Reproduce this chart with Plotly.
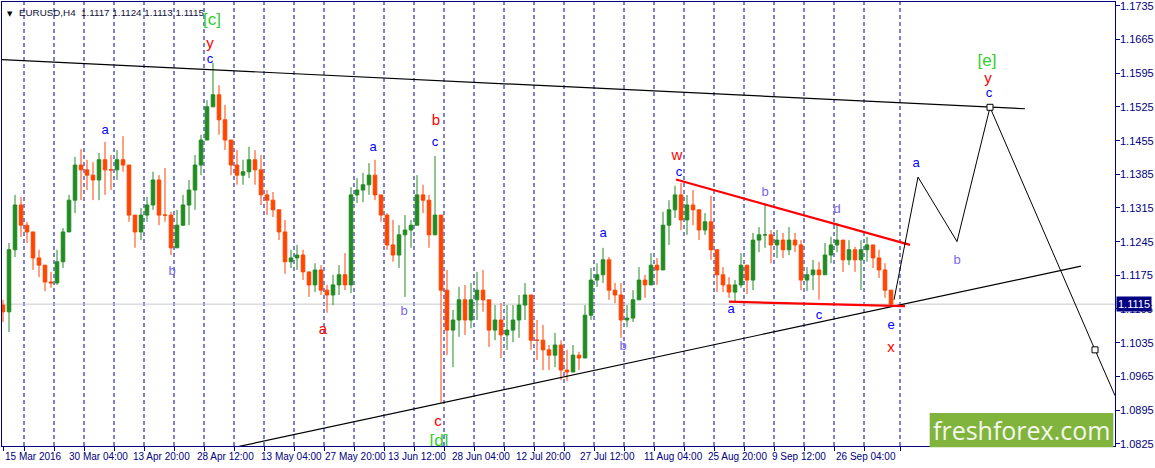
import plotly.graph_objects as go

# ---------------- data ----------------
symbol_header = "EURUSD,H4  1.1117 1.1124 1.1113 1.1115"
last_price = 1.1115

x_labels = ["15 Mar 2016", "30 Mar 04:00", "13 Apr 20:00", "28 Apr 12:00", "13 May 04:00",
            "27 May 20:00", "13 Jun 12:00", "28 Jun 04:00", "12 Jul 20:00", "27 Jul 12:00",
            "11 Aug 04:00", "25 Aug 20:00", "9 Sep 12:00", "26 Sep 04:00"]

y_ticks = [1.0825, 1.0895, 1.0965, 1.1035, 1.1105, 1.1175, 1.1245, 1.1315,
           1.1385, 1.1455, 1.1525, 1.1595, 1.1665, 1.1735]

first_open = 1.1113
highs = [
    1.1124, 1.1242, 1.1342, 1.1338, 1.1286, 1.1265, 1.1228, 1.1196, 1.1182, 1.1228,
    1.1273, 1.1342, 1.1421, 1.1437, 1.1415, 1.1410, 1.1429, 1.1452, 1.1425, 1.1435,
    1.1464, 1.1404, 1.1300, 1.1315, 1.1338, 1.1390, 1.1383, 1.1398, 1.1307, 1.1311,
    1.1342, 1.1373, 1.1425, 1.1467, 1.1539, 1.1616, 1.1570, 1.1529, 1.1456, 1.1435,
    1.1415, 1.1442, 1.1435, 1.1425, 1.1352, 1.1348, 1.1311, 1.1290, 1.1228, 1.1238,
    1.1228, 1.1182, 1.1200, 1.1196, 1.1155, 1.1176, 1.1196, 1.1221, 1.1358, 1.1377,
    1.1388, 1.1408, 1.1415, 1.1342, 1.1304, 1.1290, 1.1279, 1.1300, 1.1290, 1.1383,
    1.1363, 1.1342, 1.1423, 1.1300, 1.1186, 1.1103, 1.1151, 1.1155, 1.1159, 1.1182,
    1.1186, 1.1124, 1.1113, 1.1117, 1.1113, 1.1113, 1.1134, 1.1159, 1.1134, 1.1082,
    1.1072, 1.1030, 1.1055, 1.1040, 1.1020, 1.1030, 1.1016, 1.1113, 1.1190, 1.1200,
    1.1232, 1.1213, 1.1159, 1.1159, 1.1113, 1.1144, 1.1192, 1.1176, 1.1221, 1.1211,
    1.1307, 1.1331, 1.1361, 1.1367, 1.1342, 1.1352, 1.1311, 1.1304, 1.1340, 1.1228,
    1.1192, 1.1171, 1.1165, 1.1221, 1.1196, 1.1263, 1.1275, 1.1325, 1.1269, 1.1269,
    1.1263, 1.1275, 1.1263, 1.1248, 1.1192, 1.1207, 1.1203, 1.1242, 1.1255, 1.1284,
    1.1248, 1.1248, 1.1234, 1.1248, 1.1255, 1.1238, 1.1228, 1.1200, 1.1144,
]
lows = [
    1.1078, 1.1057, 1.1213, 1.1255, 1.1242, 1.1186, 1.1171, 1.1142, 1.1149, 1.1155,
    1.1190, 1.1265, 1.1304, 1.1331, 1.1352, 1.1331, 1.1331, 1.1342, 1.1352, 1.1373,
    1.1390, 1.1286, 1.1232, 1.1248, 1.1286, 1.1311, 1.1279, 1.1286, 1.1217, 1.1232,
    1.1286, 1.1279, 1.1311, 1.1383, 1.1456, 1.1525, 1.1467, 1.1435, 1.1383, 1.1363,
    1.1363, 1.1377, 1.1363, 1.1321, 1.1300, 1.1296, 1.1248, 1.1178, 1.1190, 1.1186,
    1.1165, 1.1130, 1.1140, 1.1134, 1.1097, 1.1113, 1.1134, 1.1144, 1.1138, 1.1325,
    1.1327, 1.1342, 1.1331, 1.1286, 1.1228, 1.1203, 1.1190, 1.1130, 1.1232, 1.1279,
    1.1304, 1.1232, 1.1265, 1.0910, 1.1009, 1.0984, 1.1047, 1.1051, 1.1065, 1.1082,
    1.1099, 1.1026, 1.1040, 1.1003, 1.1020, 1.1036, 1.1045, 1.1082, 1.1020, 1.0999,
    1.0978, 1.0978, 1.0984, 1.0957, 1.0955, 1.0974, 1.0978, 1.1003, 1.1082, 1.1151,
    1.1159, 1.1124, 1.1117, 1.1045, 1.1067, 1.1078, 1.1124, 1.1128, 1.1155, 1.1155,
    1.1186, 1.1238, 1.1294, 1.1269, 1.1259, 1.1279, 1.1248, 1.1259, 1.1207, 1.1140,
    1.1140, 1.1128, 1.1121, 1.1149, 1.1136, 1.1144, 1.1223, 1.1232, 1.1200, 1.1211,
    1.1211, 1.1217, 1.1223, 1.1144, 1.1142, 1.1144, 1.1124, 1.1176, 1.1200, 1.1223,
    1.1182, 1.1196, 1.1182, 1.1144, 1.1203, 1.1190, 1.1169, 1.1128, 1.1111,
]
closes = [
    1.1099, 1.1228, 1.1321, 1.1279, 1.1265, 1.1211, 1.1196, 1.1161, 1.1159, 1.1203,
    1.1265, 1.1331, 1.1404, 1.1394, 1.1383, 1.1373, 1.1415, 1.1394, 1.1394, 1.1415,
    1.1404, 1.1300, 1.1265, 1.1300, 1.1321, 1.1373, 1.1300, 1.1300, 1.1232, 1.1279,
    1.1321, 1.1352, 1.1404, 1.1456, 1.1525, 1.1550, 1.1498, 1.1456, 1.1404, 1.1383,
    1.1390, 1.1415, 1.1394, 1.1342, 1.1331, 1.1311, 1.1265, 1.1203, 1.1211, 1.1217,
    1.1182, 1.1155, 1.1186, 1.1144, 1.1134, 1.1155, 1.1176, 1.1155, 1.1342, 1.1352,
    1.1363, 1.1383, 1.1342, 1.1300, 1.1238, 1.1217, 1.1259, 1.1269, 1.1279, 1.1342,
    1.1331, 1.1259, 1.1300, 1.1144, 1.1061, 1.1082, 1.1124, 1.1082, 1.1124, 1.1144,
    1.1124, 1.1061, 1.1082, 1.1051, 1.1061, 1.1082, 1.1113, 1.1134, 1.1040, 1.1040,
    1.1020, 1.1009, 1.1030, 1.0978, 1.0974, 1.1009, 1.1003, 1.1092, 1.1165, 1.1176,
    1.1207, 1.1144, 1.1134, 1.1082, 1.1086, 1.1124, 1.1165, 1.1155, 1.1196, 1.1186,
    1.1279, 1.1311, 1.1342, 1.1290, 1.1321, 1.1311, 1.1269, 1.1286, 1.1228, 1.1176,
    1.1155, 1.1140, 1.1155, 1.1196, 1.1165, 1.1248, 1.1259, 1.1259, 1.1238, 1.1248,
    1.1228, 1.1248, 1.1238, 1.1165, 1.1176, 1.1186, 1.1176, 1.1217, 1.1238, 1.1248,
    1.1207, 1.1228, 1.1207, 1.1228, 1.1238, 1.1211, 1.1186, 1.1144, 1.1115,
]

# trend lines (bar index, price)
upper_trend_bars = [0, 1023]
upper_trend_prices = [1.1623, 1.1521]
lower_trend_bars = [234, 1079]
lower_trend_prices = [1.0818, 1.1194]
tri_top_bars = [674, 908]
tri_top_prices = [1.1374, 1.1238]
tri_bot_bars = [727, 903]
tri_bot_prices = [1.1120, 1.1111]
proj_bars = [892, 916, 955, 988, 1093, 1113]
proj_prices = [1.1124, 1.1379, 1.1245, 1.1524, 1.1020, 1.0925]
proj_marks_bars = [988, 1093]
proj_marks_prices = [1.1524, 1.1020]

# wave labels
blue_text = ["c", "a", "a", "c", "a", "c", "a", "c", "e", "a", "c"]
blue_bars = [208, 103, 371, 433, 601, 677, 729, 817, 889, 914, 987]
blue_prices = [1.1622, 1.1475, 1.1440, 1.1451, 1.1261, 1.1389, 1.1104, 1.1090, 1.1070, 1.1406, 1.1553]
purple_text = ["b", "b", "b", "b", "d", "b"]
purple_bars = [170, 402, 621, 763, 835, 955]
purple_prices = [1.1182, 1.1099, 1.1027, 1.1347, 1.1311, 1.1205]
red_text = ["y", "b", "a", "c", "w", "x", "y"]
red_bars = [208, 434, 321, 436, 675, 889, 986]
red_prices = [1.1654, 1.1494, 1.1061, 1.0870, 1.1423, 1.1024, 1.1582]
green_text = ["[c]", "[d]", "[e]"]
green_bars = [210, 437, 985]
green_prices = [1.1704, 1.0829, 1.1618]

# ---------------- styling ----------------
NAVY = "#000080"
GREEN = "#228B22"
ORANGE = "#FF4500"
BAR_STEP = 6          # one daily candle spans 6 H4 bars
LABEL_STEP = 63.9     # MT4 time label spacing in bars

n = len(closes)
bar_x = [BAR_STEP * i + 1 for i in range(n)]
opens = [first_open] + closes[:-1]

fig = go.Figure()

fig.add_trace(go.Candlestick(
    x=bar_x, open=opens, high=highs, low=lows, close=closes,
    increasing=dict(line=dict(color=GREEN, width=1), fillcolor=GREEN),
    decreasing=dict(line=dict(color=ORANGE, width=1), fillcolor=ORANGE),
    whiskerwidth=0, showlegend=False, hoverinfo="skip"))

def line(xs, ys, color, width):
    fig.add_trace(go.Scatter(x=xs, y=ys, mode="lines", line=dict(color=color, width=width),
                             showlegend=False, hoverinfo="skip"))

line(upper_trend_bars, upper_trend_prices, "black", 1.2)
line(lower_trend_bars, lower_trend_prices, "black", 1.2)
line(tri_top_bars, tri_top_prices, "#FF0000", 2.2)
line(tri_bot_bars, tri_bot_prices, "#FF0000", 2.2)
line(proj_bars, proj_prices, "black", 1)
fig.add_trace(go.Scatter(x=proj_marks_bars, y=proj_marks_prices, mode="markers",
                         marker=dict(symbol="square", size=6, color="white",
                                     line=dict(color="black", width=1)),
                         showlegend=False, hoverinfo="skip"))

def labels(txt, xs, ys, color, size):
    fig.add_trace(go.Scatter(x=xs, y=ys, text=txt, mode="text", textposition="middle center",
                             textfont=dict(family="Liberation Sans", size=size, color=color),
                             cliponaxis=True, showlegend=False, hoverinfo="skip"))

labels(blue_text, blue_bars, blue_prices, "#0000FF", 13)
labels(purple_text, purple_bars, purple_prices, "#7B68EE", 13)
labels(red_text, red_bars, red_prices, "#FF0000", 15)
labels(green_text, green_bars, green_prices, "#32CD32", 17)

shapes = []
seps = [22 + 30 * i for i in range(29)] + [898]
for s in seps:
    shapes.append(dict(type="line", xref="x", yref="paper", x0=s, x1=s, y0=0, y1=1,
                       line=dict(color="#0000A0", width=1, dash="4px,3px"), layer="below"))
shapes.append(dict(type="line", xref="paper", yref="y", x0=0, x1=1, y0=last_price, y1=last_price,
                   line=dict(color="#C8C8C8", width=1), layer="below"))
shapes.append(dict(type="rect", xref="paper", yref="paper", x0=0.8335, x1=0.9985, y0=-0.003, y1=0.0745,
                   fillcolor="#80B43C", line=dict(width=0), layer="above"))

annotations = []
for i, lab in enumerate(x_labels):
    annotations.append(dict(x=1 + LABEL_STEP * i, y=0, xref="x", yref="paper", text=lab,
                            showarrow=False, xanchor="left", yanchor="top", yshift=-3,
                            font=dict(family="Liberation Sans", size=10, color=NAVY)))
for v in y_ticks:
    annotations.append(dict(x=1, y=v, xref="paper", yref="y", text=f"{v:.4f}", showarrow=False,
                            xanchor="left", yanchor="middle", xshift=3,
                            font=dict(family="Liberation Sans", size=11, color=NAVY)))
annotations.append(dict(x=0, y=1, xref="paper", yref="paper", xanchor="left", yanchor="top",
                        xshift=3, yshift=-6, showarrow=False, text="▼",
                        font=dict(family="DejaVu Sans", size=7, color="#000000")))
annotations.append(dict(x=0, y=1, xref="paper", yref="paper", xanchor="left", yanchor="top",
                        xshift=15, yshift=-3, showarrow=False, text=symbol_header,
                        font=dict(family="Liberation Sans", size=9.8, color="#10103A")))
annotations.append(dict(x=1, y=last_price, xref="paper", yref="y", xanchor="left", yanchor="middle",
                        xshift=1, showarrow=False, text=f"{last_price:.4f}", bgcolor=NAVY,
                        borderpad=1, font=dict(family="Liberation Sans", size=11, color="white")))
annotations.append(dict(x=0.916, y=0.036, xref="paper", yref="paper", showarrow=False,
                        text="freshforex.com", xanchor="center", yanchor="middle",
                        font=dict(family="Open Sans", size=25, color="#F4F8EE")))

fig.update_layout(
    width=1155, height=468,
    margin=dict(l=2, r=40, t=2, b=22, autoexpand=False),
    paper_bgcolor="white", plot_bgcolor="white",
    showlegend=False, boxgap=0.15,
    shapes=shapes, annotations=annotations,
    xaxis=dict(range=[0, 1113], rangeslider=dict(visible=False), showgrid=False, zeroline=False,
               showline=True, mirror=True, linecolor=NAVY, linewidth=1,
               ticks="outside", ticklen=4, tickcolor=NAVY, tickvals=[1] + seps,
               showticklabels=False, automargin=False),
    yaxis=dict(range=[1.08202, 1.17428], side="right", showgrid=False, zeroline=False,
               showline=True, mirror=True, linecolor=NAVY, linewidth=1,
               ticks="outside", ticklen=4, tickcolor=NAVY,
               tickvals=y_ticks, showticklabels=False, automargin=False),
)

fig.write_html("out.html", config={"displayModeBar": False},
               post_script="document.body.style.margin='0';document.body.style.overflow='hidden';")
